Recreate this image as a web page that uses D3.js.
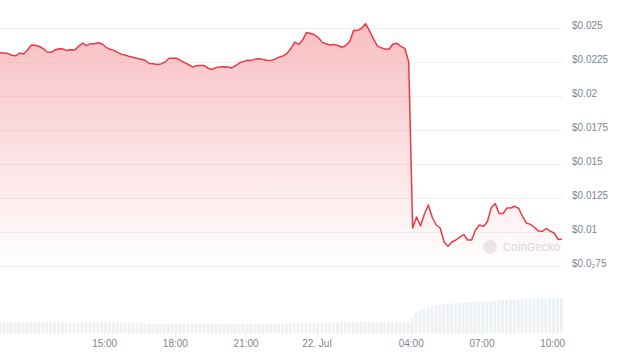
<!DOCTYPE html>
<html>
<head>
<meta charset="utf-8">
<script src="https://cdn.jsdelivr.net/npm/d3@7"></script>
<style>
  body { margin: 0; background: #fff; }
  svg { display: block; font-family: Inter, "Noto Sans", sans-serif; }
</style>
</head>
<body>
<script>
// price every 10 minutes, 21 Jul 10:35 -> 22 Jul 10:25
var startTime = "2024-07-21T10:35:00";
var stepMinutes = 10;

var prices = [
  0.023184, 0.023169, 0.023118, 0.022993, 0.022956, 0.023162, 0.023088, 0.023382, 0.023757, 0.023735,
  0.023640, 0.023478, 0.023235, 0.023213, 0.023382, 0.023478, 0.023456, 0.023338, 0.023397, 0.023382,
  0.023647, 0.023897, 0.023706, 0.023846, 0.023846, 0.023919, 0.023824, 0.023581, 0.023434, 0.023353,
  0.023191, 0.023059, 0.022993, 0.022897, 0.022831, 0.022765, 0.022706, 0.022610, 0.022382, 0.022368,
  0.022316, 0.022360, 0.022500, 0.022772, 0.022772, 0.022772, 0.022596, 0.022456, 0.022309, 0.022140,
  0.022221, 0.022250, 0.022235, 0.022029, 0.021971, 0.022088, 0.022132, 0.022147, 0.022125, 0.022066,
  0.022243, 0.022441, 0.022544, 0.022625, 0.022618, 0.022713, 0.022743, 0.022676, 0.022625, 0.022618,
  0.022706, 0.022860, 0.022941, 0.023132, 0.023471, 0.023956, 0.023794, 0.024110, 0.024676, 0.024596,
  0.024500, 0.024301, 0.023941, 0.023846, 0.023750, 0.023787, 0.023713, 0.023588, 0.023713, 0.024022,
  0.024831, 0.024824, 0.024963, 0.025316, 0.024801, 0.024213, 0.023684, 0.023544, 0.023449, 0.023434,
  0.023824, 0.023875, 0.023654, 0.023507, 0.022500, 0.010294, 0.011103, 0.010441, 0.011324, 0.011985,
  0.011066, 0.010515, 0.010294, 0.009265, 0.008949, 0.009265, 0.009412, 0.009618, 0.009816, 0.009412,
  0.009412, 0.010147, 0.010515, 0.010412, 0.010750, 0.011779, 0.012088, 0.011353, 0.011353, 0.011765,
  0.011765, 0.011890, 0.011728, 0.011118, 0.010640, 0.010559, 0.010331, 0.010066, 0.010051, 0.010257,
  0.010066, 0.009926, 0.009456, 0.009485
];

// 24h volume (millions $), same timestamps
var volumes = [
  1.00, 1.01, 1.00, 0.99, 1.00, 1.01, 1.02, 1.03, 1.05, 1.05,
  1.04, 1.04, 1.03, 1.02, 1.02, 1.01, 1.01, 1.00, 1.00, 1.01,
  1.02, 1.03, 1.06, 1.08, 1.08, 1.07, 1.06, 1.08, 1.10, 1.09,
  1.05, 1.02, 1.00, 0.99, 0.98, 0.97, 0.97, 0.96, 0.96, 0.95,
  0.95, 0.95, 0.94, 0.94, 0.94, 0.93, 0.93, 0.93, 0.92, 0.92,
  0.92, 0.93, 0.93, 0.92, 0.92, 0.91, 0.91, 0.92, 0.92, 0.93,
  0.93, 0.93, 0.94, 0.94, 0.93, 0.93, 0.92, 0.92, 0.93, 0.93,
  0.94, 0.94, 0.95, 0.96, 0.97, 0.98, 0.98, 0.99, 1.00, 1.00,
  0.99, 0.99, 0.98, 0.98, 0.98, 0.99, 1.00, 1.02, 1.04, 1.06,
  1.08, 1.09, 1.09, 1.10, 1.09, 1.08, 1.08, 1.07, 1.07, 1.06,
  1.06, 1.06, 1.07, 1.08, 1.10, 1.50, 2.00, 2.30, 2.45, 2.55,
  2.65, 2.75, 2.80, 2.85, 2.90, 2.95, 2.98, 3.00, 3.05, 3.07,
  3.10, 3.12, 3.15, 3.17, 3.20, 3.22, 3.24, 3.25, 3.28, 3.30,
  3.32, 3.33, 3.35, 3.37, 3.38, 3.40, 3.41, 3.42, 3.43, 3.44,
  3.45, 3.46, 3.47, 3.48
];

var yTicks = [0.025, 0.0225, 0.02, 0.0175, 0.015, 0.0125, 0.01, 0.0075];
var yTickLabels = ["$0.025", "$0.0225", "$0.02", "$0.0175", "$0.015", "$0.0125", "$0.01", "$0.0\u208275"];

var xTicks = ["2024-07-21T15:00", "2024-07-21T18:00", "2024-07-21T21:00", "2024-07-22T00:00",
              "2024-07-22T04:00", "2024-07-22T07:00", "2024-07-22T10:00"];
var xTickLabels = ["15:00", "18:00", "21:00", "22. Jul", "04:00", "07:00", "10:00"];

var width = 635, height = 357;
var red = "#ea3943";

var t0 = new Date(startTime);
var data = prices.map(function(p, i) {
  return { t: d3.timeMinute.offset(t0, i * stepMinutes), price: p, vol: volumes[i] };
});

var x = d3.scaleTime()
  .domain(d3.extent(data, function(d) { return d.t; }))
  .range([0, 562]);

var y = d3.scaleLinear()
  .domain([0.0075, 0.025])
  .range([266, 28]);

var yVol = d3.scaleLinear()
  .domain([0, 3.5])
  .range([333, 298]);

var svg = d3.select("body").append("svg")
  .attr("width", width)
  .attr("height", height);

var grad = svg.append("defs").append("linearGradient")
  .attr("id", "fade")
  .attr("gradientUnits", "userSpaceOnUse")
  .attr("x1", 0).attr("x2", 0)
  .attr("y1", y(0.025)).attr("y2", y(0.0075));
grad.append("stop").attr("offset", 0).attr("stop-color", red).attr("stop-opacity", 0.32);
grad.append("stop").attr("offset", 1).attr("stop-color", red).attr("stop-opacity", 0.0);

// y axis + gridlines
var yAxis = svg.append("g")
  .attr("transform", "translate(563,0)")
  .call(d3.axisRight(y)
    .tickValues(yTicks)
    .tickFormat(function(d, i) { return yTickLabels[i]; })
    .tickSize(-563)
    .tickPadding(9));
yAxis.select(".domain").remove();
yAxis.selectAll("line").attr("stroke", "#eff1f3");
yAxis.selectAll("text")
  .attr("y", -3)
  .attr("fill", "#7d8594")
  .style("font-size", "10px");

// volume bars
var barW = x(data[1].t) - x(data[0].t);
svg.append("g").selectAll("rect")
  .data(data)
  .enter()
  .append("rect")
  .attr("x", function(d) { return x(d.t) - barW / 2; })
  .attr("width", barW - 1)
  .attr("y", function(d) { return yVol(d.vol); })
  .attr("height", function(d) { return yVol(0) - yVol(d.vol); })
  .attr("fill", "#eef1f4");

// x axis
var xAxis = svg.append("g")
  .attr("transform", "translate(0,333)")
  .call(d3.axisBottom(x)
    .tickValues(xTicks.map(function(s) { return new Date(s); }))
    .tickFormat(function(d, i) { return xTickLabels[i]; })
    .tickSize(4)
    .tickPadding(3));
xAxis.select(".domain").remove();
xAxis.selectAll("line").attr("stroke", "#eceef1");
xAxis.selectAll("text")
  .attr("fill", "#7d8594")
  .style("font-size", "10px");

// watermark
var wm = svg.append("g").attr("opacity", 0.9);
wm.append("circle").attr("cx", 490).attr("cy", 247).attr("r", 7).attr("fill", "#e6e8eb");
wm.append("text").attr("x", 503).attr("y", 251)
  .attr("fill", "#d3d6db")
  .style("font-size", "11px")
  .text("CoinGecko");

// price area + line
var area = d3.area()
  .x(function(d) { return x(d.t); })
  .y0(y(0.0075))
  .y1(function(d) { return y(d.price); });

var line = d3.line()
  .x(function(d) { return x(d.t); })
  .y(function(d) { return y(d.price); });

svg.append("path")
  .datum(data)
  .attr("d", area)
  .attr("fill", "url(#fade)");

svg.append("path")
  .datum(data)
  .attr("d", line)
  .attr("fill", "none")
  .attr("stroke", red)
  .attr("stroke-width", 1.5)
  .attr("stroke-linejoin", "round");
</script>
</body>
</html>
